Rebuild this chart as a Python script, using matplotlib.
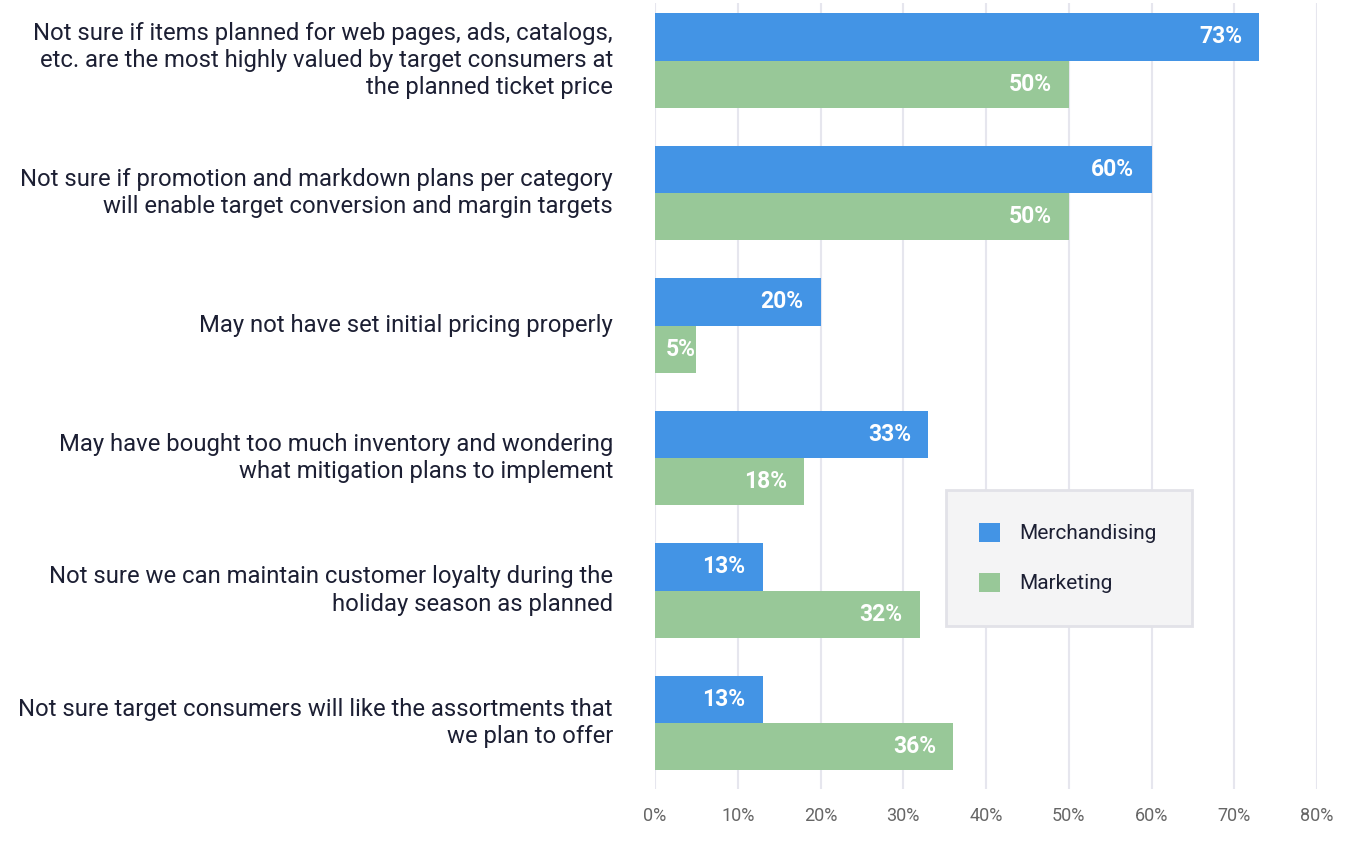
import matplotlib
matplotlib.use("Agg")
import matplotlib.pyplot as plt
from matplotlib.patches import Patch
import numpy as np

categories = [
    "Not sure if items planned for web pages, ads, catalogs,\netc. are the most highly valued by target consumers at\nthe planned ticket price",
    "Not sure if promotion and markdown plans per category\nwill enable target conversion and margin targets",
    "May not have set initial pricing properly",
    "May have bought too much inventory and wondering\nwhat mitigation plans to implement",
    "Not sure we can maintain customer loyalty during the\nholiday season as planned",
    "Not sure target consumers will like the assortments that\nwe plan to offer",
]
merchandising = [73, 60, 20, 33, 13, 13]
marketing = [50, 50, 5, 18, 32, 36]
series_names = ["Merchandising", "Marketing"]
xticks = [0, 10, 20, 30, 40, 50, 60, 70, 80]

BLUE = "#4394e5"
GREEN = "#98c898"
TEXT = "#1c1f33"

plt.rcParams['font.family'] = ['Roboto', 'DejaVu Sans']

fig = plt.figure(figsize=(13.58, 8.48), dpi=100)
ax = fig.add_axes([655/1358, 1 - 789/848, (1317-655)/1358, 786/848])

y = np.arange(len(categories))
h = 0.355
b1 = ax.barh(y - h/2, merchandising, height=h, color=BLUE, zorder=3)
b2 = ax.barh(y + h/2, marketing, height=h, color=GREEN, zorder=3)

ax.set_xlim(0, 80)
ax.set_ylim(5.498, -0.434)
ax.set_xticks(xticks)
ax.set_xticklabels([f"{t}%" for t in xticks], color="#666666", fontsize=13)
ax.tick_params(axis='x', length=0, pad=13)
ax.set_yticks([])
for s in ax.spines.values():
    s.set_visible(False)
ax.grid(axis='x', color="#e6e6ee", linewidth=1.5, zorder=0)

for bars, vals in ((b1, merchandising), (b2, marketing)):
    for bar, v in zip(bars, vals):
        yc = bar.get_y() + bar.get_height()/2
        if v < 8:
            ax.annotate(f"{v}%", (v, yc), xytext=(-1, 0), textcoords='offset pixels',
                        ha='right', va='center',
                        color='white', fontsize=16.5, fontweight='bold', zorder=4)
        else:
            ax.annotate(f"{v}%", (v, yc), xytext=(-17, 0), textcoords='offset pixels',
                        ha='right', va='center', color='white', fontsize=16.5,
                        fontweight='bold', zorder=4)

for yi, lab in zip(y, categories):
    ax.annotate(lab, (0, yi), xytext=(-42, 0), textcoords='offset pixels',
                ha='right', va='center', color=TEXT, fontsize=17.2,
                linespacing=1.24, annotation_clip=False)

handles = [Patch(facecolor=BLUE, label=series_names[0]),
           Patch(facecolor=GREEN, label=series_names[1])]
leg = ax.legend(handles=handles, loc='upper left',
                bbox_to_anchor=((946-655)/662, 1 - (628-3)/786, (1192-946)/662, (628-490)/786),
                mode='expand', frameon=True, fancybox=False, fontsize=15,
                handlelength=1.0, handleheight=1.0, handletextpad=0.95,
                labelspacing=1.42, borderpad=1.58, borderaxespad=0)
leg.get_frame().set_facecolor("#f4f4f5")
leg.get_frame().set_edgecolor("#e2e2e8")
leg.get_frame().set_linewidth(2)
leg.get_frame().set_alpha(1)
for t in leg.get_texts():
    t.set_color(TEXT)

fig.savefig("out.png", dpi=100, facecolor='white')
